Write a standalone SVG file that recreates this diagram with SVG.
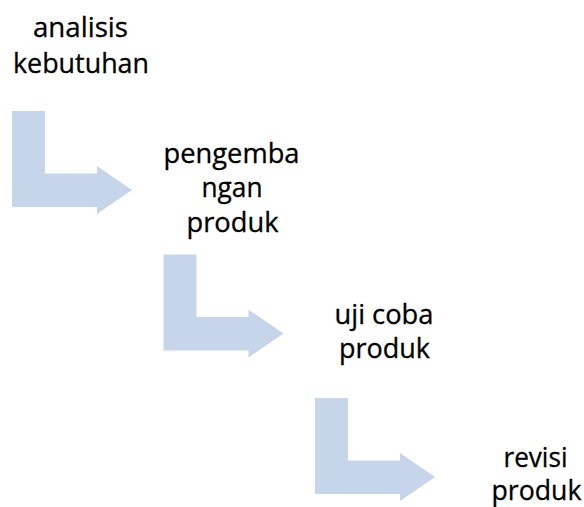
<svg xmlns="http://www.w3.org/2000/svg" width="584" height="507" viewBox="0 0 584 507">
<style>
.lbl{font-family:"Open Sans","Noto Sans",sans-serif;font-size:26.5px;fill:#000;stroke:#000;stroke-width:0.3px;text-anchor:middle}
.arr{fill:#C6D5EA;stroke:none}
</style>
<defs>
<path id="bent" d="M0,0 H33 V62.5 H85 V55 L120,79 L85,103 V96 H0 Z"/>
</defs>
<rect width="584" height="507" fill="#fff"/>
<g id="connectors">
<use href="#bent" class="arr" transform="translate(12,111)"/>
<use href="#bent" class="arr" transform="translate(163.5,254.5)"/>
<use href="#bent" class="arr" transform="translate(315,398)"/>
</g>
<g id="node-analisis">
<text class="lbl" x="80.5" y="36.5" textLength="95" lengthAdjust="spacingAndGlyphs">analisis</text>
<text class="lbl" x="81" y="72.5" textLength="136" lengthAdjust="spacingAndGlyphs">kebutuhan</text>
</g>
<g id="node-pengembangan">
<text class="lbl" x="231.5" y="163" textLength="136" lengthAdjust="spacingAndGlyphs">pengemba</text>
<text class="lbl" x="232" y="197" textLength="61" lengthAdjust="spacingAndGlyphs">ngan</text>
<text class="lbl" x="232.5" y="231.5" textLength="92" lengthAdjust="spacingAndGlyphs">produk</text>
</g>
<g id="node-uji">
<text class="lbl" x="384" y="324" textLength="99" lengthAdjust="spacingAndGlyphs">uji coba</text>
<text class="lbl" x="384.5" y="357.5" textLength="91" lengthAdjust="spacingAndGlyphs">produk</text>
</g>
<g id="node-revisi">
<text class="lbl" x="535.5" y="466.5" textLength="64" lengthAdjust="spacingAndGlyphs">revisi</text>
<text class="lbl" x="536.5" y="500" textLength="90" lengthAdjust="spacingAndGlyphs">produk</text>
</g>
</svg>
